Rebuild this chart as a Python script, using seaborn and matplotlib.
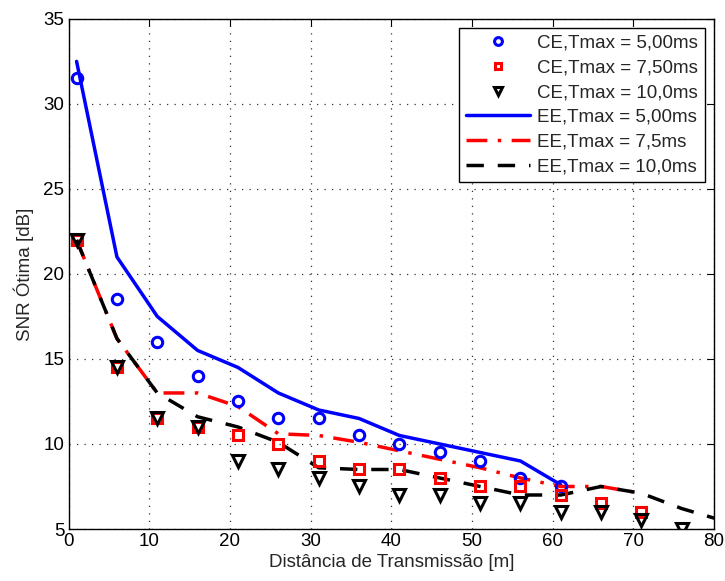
import matplotlib
matplotlib.use("Agg")
import matplotlib.pyplot as plt
import seaborn as sns
import pandas as pd

sns.set_theme(style="white")
plt.rcParams['font.family'] = ['Liberation Sans', 'DejaVu Sans']

# CE (markers)
x_ce5 = [1, 6, 11, 16, 21, 26, 31, 36, 41, 46, 51, 56, 61]
y_ce5 = [31.5, 18.5, 16, 14, 12.5, 11.5, 11.5, 10.5, 10, 9.5, 9, 8, 7.5]
x_ce75 = [1, 6, 11, 16, 21, 26, 31, 36, 41, 46, 51, 56, 61, 66, 71]
y_ce75 = [22, 14.5, 11.5, 11, 10.5, 10, 9, 8.5, 8.5, 8, 7.5, 7.5, 7, 6.5, 6]
x_ce10 = [1, 6, 11, 16, 21, 26, 31, 36, 41, 46, 51, 56, 61, 66, 71, 76]
y_ce10 = [22, 14.5, 11.5, 11, 9, 8.5, 8, 7.5, 7, 7, 6.5, 6.5, 6, 6, 5.5, 5]

# EE (lines)
x_ee5 = [1, 6, 11, 16, 21, 26, 31, 36, 41, 46, 51, 56, 61]
y_ee5 = [32.5, 21, 17.5, 15.5, 14.5, 13, 12, 11.5, 10.5, 10, 9.5, 9, 7.6]
x_ee75 = [1, 6, 11, 16, 21, 26, 31, 36, 41, 46, 51, 56, 61, 66, 71]
y_ee75 = [22, 16.2, 13, 13, 12.2, 10.6, 10.5, 10.1, 9.6, 9.1, 8.6, 8, 7.5, 7.5, 7.1]
x_ee10 = [1, 6, 11, 16, 21, 26, 31, 36, 41, 46, 51, 56, 61, 66, 71, 76, 81]
y_ee10 = [22, 16.2, 13, 11.6, 11, 10.1, 8.6, 8.5, 8.5, 8, 7.5, 7, 7, 7.5, 7.1, 6.2, 5.5]

labels_ce = ["CE,Tmax = 5,00ms", "CE,Tmax = 7,50ms", "CE,Tmax = 10,0ms"]
labels_ee = ["EE,Tmax = 5,00ms", "EE,Tmax = 7,5ms", "EE,Tmax = 10,0ms"]

fig = plt.figure(figsize=(7.25, 5.81), dpi=100)
ax = fig.add_axes([0.0945, 0.0895, 0.8905, 0.878])

ce_sets = [(x_ce5, y_ce5, 'o', 'blue', 7.5), (x_ce75, y_ce75, 's', 'red', 6.5), (x_ce10, y_ce10, 'v', 'black', 8.5)]
for (xs, ys, m, c, ms), lab in zip(ce_sets, labels_ce):
    df = pd.DataFrame({'x': xs, 'y': ys})
    ax.plot(df['x'], df['y'], linestyle='none', marker=m, markersize=ms,
            markerfacecolor='none', markeredgecolor=c, markeredgewidth=2.2, label=lab, zorder=3)

ee_sets = [(x_ee5, y_ee5, '-', 'blue'), (x_ee75, y_ee75, (0, (6, 3, 1, 3)), 'red'), (x_ee10, y_ee10, (0, (5, 4)), 'black')]
for (xs, ys, ls, c), lab in zip(ee_sets, labels_ee):
    df = pd.DataFrame({'x': xs, 'y': ys})
    sns.lineplot(data=df, x='x', y='y', ax=ax, color=c, linewidth=2.5, label=lab,
                 linestyle=ls, sort=False, estimator=None, zorder=2)

ax.set_xlim(0, 80)
ax.set_ylim(5, 35)
ax.set_xticks(range(0, 81, 10))
ax.set_yticks(range(5, 36, 5))
ax.grid(True, linestyle=(0, (1, 5)), color='#333333', linewidth=0.9)
for s in ax.spines.values():
    s.set_color('black')
    s.set_linewidth(1.0)
ax.tick_params(direction='in', length=5, width=0.8, top=True, right=True,
               labelsize=13.5, colors='black', pad=3)
ax.set_xlabel("Distância de Transmissão [m]", fontsize=13.5, labelpad=3)
ax.set_ylabel("SNR Ótima [dB]", fontsize=13.5, labelpad=7)

leg = ax.legend(loc='upper right', fontsize=13.5, frameon=True, fancybox=False,
                edgecolor='black', framealpha=1, borderaxespad=0.5,
                handlelength=3.4, labelspacing=0.4, borderpad=0.35, handletextpad=0.4,
                markerscale=0.75)
leg.get_frame().set_linewidth(1.0)

fig.savefig("out.png", dpi=100)
